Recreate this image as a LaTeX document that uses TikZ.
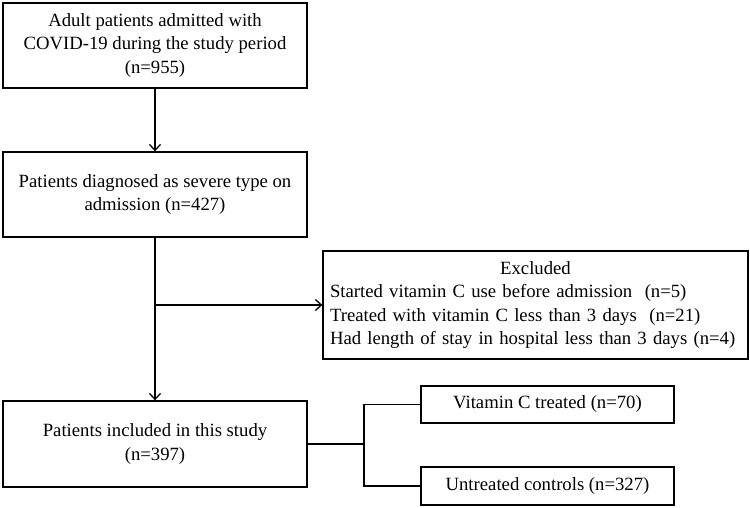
\documentclass[tikz,border=0pt]{standalone}
\usepackage{fontspec}
\setmainfont{Liberation Serif}
\usetikzlibrary{arrows.meta}
\usetikzlibrary{calc}

\begin{document}
\begin{tikzpicture}[x=1pt,y=-1pt,line width=1.3pt,
    >={Straight Barb[length=6pt,width=11pt]},
    flowbox/.style={draw,inner sep=0pt,align=center,
      font=\fontsize{18.7}{23.5}\selectfont}]

  \useasboundingbox (0,0) rectangle (750,508);

  % main column
  \node[flowbox,minimum width=304,minimum height=85] (adult) at (155,45.5)
  {Adult patients admitted with\\COVID-19 during the study period\\(n=955)};
  \node[flowbox,minimum width=304,minimum height=85] (severe) at (155,194.5)
  {Patients diagnosed as severe type on\\admission (n=427)};
  \node[flowbox,minimum width=304,minimum height=86] (included) at (155,444)
  {Patients included in this study\\(n=397)};

  % excluded patients
  \node[flowbox,minimum width=425,minimum height=108,align=left,
    text width=411] (excluded) at (535.5,305)
  {\makebox[\hsize][c]{Excluded}\\
   Started vitamin C use before admission~ (n=5)\\
   Treated with vitamin C less than 3 days~ (n=21)\\
   Had length of stay in hospital less than 3 days (n=4)};

  % groups
  \node[flowbox,minimum width=253,minimum height=37] (treated) at (547.5,404.5)
  {Vitamin C treated (n=70)};
  \node[flowbox,minimum width=253,minimum height=38] (controls) at (547.5,486)
  {Untreated controls (n=327)};

  \coordinate (branch) at (severe.south |- excluded.west);
  \coordinate (split) at (364,0 |- included.east);

  % connectors
  \draw[->] (adult) -- (severe);
  \draw[->] (severe) -- (included);
  \draw[->] (branch) -- (excluded.west);
  \draw (included.east) -- (split);
  \draw (split) |- (treated.west);
  \draw (split) |- (controls.west);

\end{tikzpicture}
\end{document}
